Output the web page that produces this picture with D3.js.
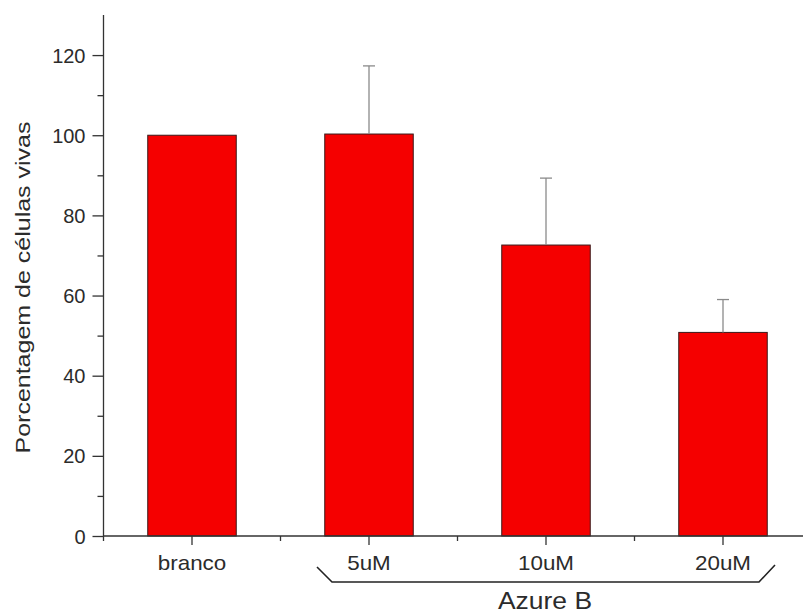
<!DOCTYPE html>
<html><head><meta charset="utf-8">
<script src="https://cdn.jsdelivr.net/npm/d3@7"></script>
<style>body{margin:0;background:#fff}svg{display:block}text{font-family:"Liberation Sans",Arial,sans-serif;fill:#2b2b2b}</style>
</head><body><svg id="c" width="803" height="613"></svg>
<script>
const categories = ["branco", "5uM", "10uM", "20uM"];
const values = [100, 100.3, 72.6, 50.8];
const errors = [0, 17.0, 16.7, 8.2];
const yMajorTicks = [0, 20, 40, 60, 80, 100, 120];
const yMinorTicks = [10, 30, 50, 70, 90, 110];
const yLabel = "Porcentagem de células vivas";
const groupLabel = "Azure B";

const svg = d3.select("#c");
const x = d3.scaleBand().domain(categories).range([103.5, 811.5]).paddingInner(0.5).paddingOuter(0.25);
const y = d3.scaleLinear().domain([0, 130]).range([536, 15]);
const step = x.step();
const cx = d => x(d) + x.bandwidth() / 2;

// bars
svg.append("g").selectAll("rect").data(categories).join("rect")
  .attr("x", d => x(d)).attr("width", x.bandwidth())
  .attr("y", (d, i) => y(values[i])).attr("height", (d, i) => y(0) - y(values[i]))
  .attr("fill", "#f50000").attr("stroke", "#3a1a1a").attr("stroke-width", 1);

// error bars
const eg = svg.append("g").attr("stroke", "#8a8a8a").attr("stroke-width", 1.3);
categories.forEach((c, i) => {
  if (!errors[i]) return;
  eg.append("line").attr("x1", cx(c)).attr("x2", cx(c)).attr("y1", y(values[i])).attr("y2", y(values[i] + errors[i]));
  eg.append("line").attr("x1", cx(c) - 6).attr("x2", cx(c) + 6).attr("y1", y(values[i] + errors[i])).attr("y2", y(values[i] + errors[i]));
});

// y axis
const ya = svg.append("g").attr("transform", "translate(103.5,0)")
  .call(d3.axisLeft(y).tickValues(yMajorTicks).tickSize(11).tickSizeOuter(0).tickFormat(d3.format("d")));
ya.select(".domain").attr("d", `M0,${y(130)}V${y(0)}`);
ya.selectAll("text").attr("font-size", 20).attr("x", -18).attr("dy", "0.35em").style("fill", "#2b2b2b");
ya.selectAll("line, path").attr("stroke", "#333").attr("stroke-width", 1.3);
const ym = svg.append("g").attr("transform", "translate(103.5,0)")
  .call(d3.axisLeft(y).tickValues(yMinorTicks).tickSize(6).tickFormat(""));
ym.select(".domain").remove();
ym.selectAll("line").attr("stroke", "#333").attr("stroke-width", 1.3);

// x axis
const xa = svg.append("g").attr("transform", `translate(0,${y(0)})`);
xa.append("line").attr("x1", 103.5).attr("x2", 803).attr("stroke", "#333").attr("stroke-width", 1.3);
xa.selectAll(".maj").data(categories).join("line").attr("class", "maj")
  .attr("x1", cx).attr("x2", cx).attr("y1", 0).attr("y2", 9).attr("stroke", "#333").attr("stroke-width", 1.3);
xa.selectAll(".min").data(categories).join("line").attr("class", "min")
  .attr("x1", d => x(d) - step * 0.25).attr("x2", d => x(d) - step * 0.25).attr("y1", 0).attr("y2", 5)
  .attr("stroke", "#333").attr("stroke-width", 1.3);
xa.selectAll("g.lbl").data(categories).join("g").attr("class", "lbl")
  .attr("transform", d => `translate(${cx(d)},34) scale(1.12,1)`)
  .append("text").attr("text-anchor", "middle").attr("font-size", 20).text(d => d);

// bracket
const bl = cx("5uM") - 52, br = cx("20uM") + 52;
const by = y(0) + 46;
svg.append("path").attr("d", `M${bl},${by - 15}L${bl + 15},${by}L${br - 16},${by}L${br},${by - 17}`)
  .attr("fill", "none").attr("stroke", "#222").attr("stroke-width", 1.6);
svg.append("g").attr("transform", `translate(${(cx("5uM") + cx("20uM")) / 2 - 1},609) scale(1.15,1)`)
  .append("text").attr("text-anchor", "middle").attr("font-size", 23).text(groupLabel);

// y label
svg.append("g").attr("transform", `translate(30,${y(62)}) rotate(-90) scale(1.19,1)`)
  .append("text").attr("text-anchor", "middle").attr("font-size", 21).text(yLabel);
</script></body></html>
